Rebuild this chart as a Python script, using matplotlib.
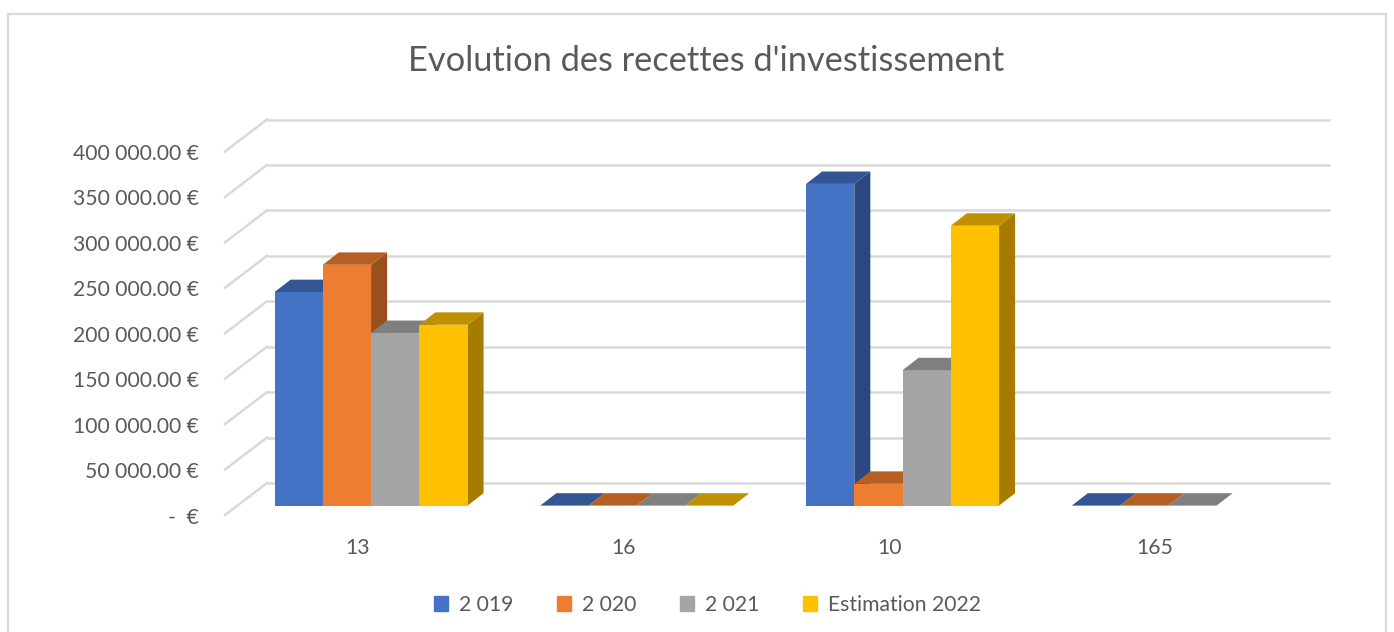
import numpy as np
import matplotlib
matplotlib.use("Agg")
import matplotlib.pyplot as plt
from matplotlib.patches import Patch, Rectangle
from matplotlib.transforms import Affine2D

plt.rcParams['font.family'] = ['Lato', 'DejaVu Sans']

categories = ['13', '16', '10', '165']
series_names = ['2 019', '2 020', '2 021', 'Estimation 2022']
v2019 = [235000, 0, 354000, 0]
v2020 = [265000, 0, 24000, 0]
v2021 = [190000, 0, 149000, 0]
v2022 = [199000, 0, 308000, np.nan]
series_values = [v2019, v2020, v2021, v2022]
ticks = [0, 50000, 100000, 150000, 200000, 250000, 300000, 350000, 400000]
tick_labels = ['-  €', '50 000.00 €', '100 000.00 €', '150 000.00 €', '200 000.00 €',
               '250 000.00 €', '300 000.00 €', '350 000.00 €', '400 000.00 €']
front = ['#4472C4', '#ED7D31', '#A5A5A5', '#FFC000']
top = ['#335593', '#B55F22', '#7F7F7F', '#BF9000']
side = ['#2A4880', '#9A501C', '#6C6C6C', '#A67C00']

W, H = 1394, 632
fig = plt.figure(figsize=(W / 100, H / 100), dpi=100)
fig.patch.set_facecolor('white')

# front edge of the floor defines the axes
L, R, Y0, Y400 = 225, 1288, 515, 151.5
ax = fig.add_axes([L / W, 1 - Y0 / H, (R - L) / W, (Y0 - Y400) / H])
ax.set_xlim(0, 4)
ax.set_ylim(0, 400000)
ax.patch.set_alpha(0)
for s in ax.spines.values():
    s.set_visible(False)
ax.set_yticks(ticks, tick_labels)
ax.set_xticks(np.arange(4) + 0.5, categories)
ax.tick_params(length=0, labelsize=15.2, labelcolor='#595959')
ax.tick_params(axis='y', pad=18.8)
ax.tick_params(axis='x', pad=16.5)
for lab in ax.get_yticklabels():
    lab.set_transform(lab.get_transform() + Affine2D().translate(0, -0.5))

grid = '#D9D9D9'
BACK = (42, 32)         # wall depth, pixels
back_tf = ax.transData + Affine2D().translate(BACK[0], BACK[1])
sx = 1 / ((R - L) / 4)  # pixels -> category units
sy = 400000 / (Y0 - Y400)  # pixels -> value units
for t in ticks:
    ax.plot([0, 4], [t, t], color=grid, lw=1.8, transform=back_tf, clip_on=False, zorder=1,
            solid_capstyle='butt')
    ax.plot([0, BACK[0] * sx], [t, t + BACK[1] * sy], color=grid, lw=1.8, clip_on=False, zorder=1)

# bars stand at this depth inside the floor
plane_tf = ax.transData + Affine2D().translate(13.2, 9.4)
bar_w = 48.25 * sx
dep_x, dep_y = 16 * sx, 12.4 * sy
z = 2
for c in range(4):
    for k, vals in enumerate(series_values):
        v = vals[c]
        if np.isnan(v):
            continue
        x0 = c + 0.5 + (k - 2) * bar_w
        x1 = x0 + bar_w
        ax.fill([x1, x1 + dep_x, x1 + dep_x, x1], [0, dep_y, v + dep_y, v], color=side[k], lw=0,
                transform=plane_tf, clip_on=False, zorder=z)
        ax.bar([x0], [v], width=bar_w, align='edge', color=front[k], lw=0,
               transform=plane_tf, clip_on=False, zorder=z + 0.1)
        ax.fill([x0, x1, x1 + dep_x, x0 + dep_x], [v, v, v + dep_y, v + dep_y], color=top[k], lw=0,
                transform=plane_tf, clip_on=False, zorder=z + 0.2)
        z += 1

fig.text(706 / W, 1 - 61 / H, "Evolution des recettes d'investissement", ha='center', va='center',
         fontsize=24.75, color='#595959')

handles = [Patch(color=c, label=n) for c, n in zip(front, series_names)]
fig.legend(handles=handles, loc='center', bbox_to_anchor=(707.5 / W, 1 - 605 / H), ncol=4, frameon=False,
           fontsize=15.2, labelcolor='#595959', handlelength=0.66, handleheight=0.66,
           handletextpad=0.52, columnspacing=2.06)

fig.add_artist(Rectangle((8 / W, -0.05), (1386 - 8) / W, 1.05 - 14 / H, transform=fig.transFigure,
                         fill=False, edgecolor='#D9D9D9', lw=1.6))

fig.savefig('out.png', dpi=100)
